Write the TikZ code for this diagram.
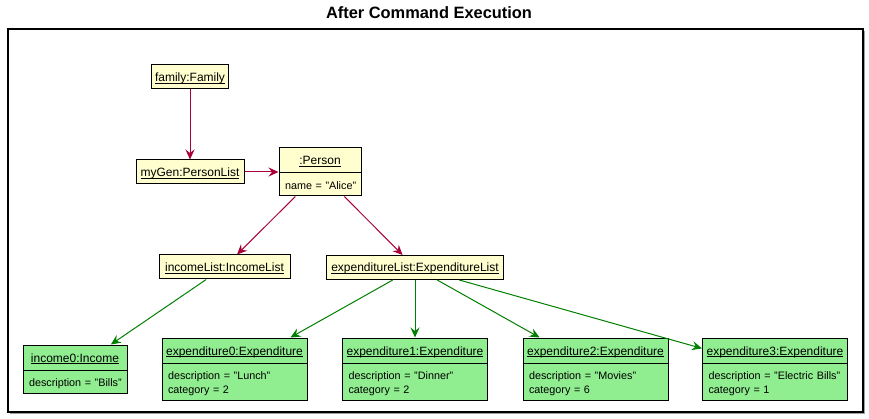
\documentclass[tikz,border=0pt]{standalone}
\usepackage{fontspec}
\setmainfont{Liberation Sans}
\usetikzlibrary{arrows.meta,shapes.multipart,positioning}

\definecolor{objyellow}{HTML}{FEFECE}
\definecolor{objgreen}{HTML}{90EE90}
\definecolor{linkred}{HTML}{A80036}
\definecolor{linkgreen}{HTML}{008000}
\definecolor{frameshadow}{HTML}{A0A0A0}

\newsavebox{\labelbox}
\newcommand{\objlabel}[1]{{\fontsize{12}{14}\selectfont\sbox{\labelbox}{#1}\rule[-4.5pt]{0pt}{18pt}\rlap{\rule[-2pt]{\wd\labelbox}{0.8pt}}\usebox{\labelbox}}}
\newcommand{\objhead}[1]{\hbox to\hsize{\hss\objlabel{#1}\hss}}
\newcommand{\oneattr}[1]{\mbox{\rule[-3pt]{0pt}{16pt}#1}}
\newcommand{\twoattrs}[2]{\mbox{\rule{0pt}{13pt}#1}\\\mbox{#2\rule[-3pt]{0pt}{3pt}}}

\tikzset{
  obj/.style={draw, line width=1pt, fill=objyellow, inner xsep=0pt, inner ysep=3pt, font=\fontsize{10.8}{14}\selectfont},
  objsplit/.style={obj, rectangle split, rectangle split parts=2, inner xsep=6pt, align=left},
  redlink/.style={->, linkred, line width=1pt},
  greenlink/.style={->, linkgreen, line width=1pt}
}

\begin{document}
\begin{tikzpicture}[x=1pt, y=-1pt, >={Stealth[length=10pt,width=9pt,inset=3.5pt]}]
  \useasboundingbox (0,0) rectangle (869,419);
  \fill [frameshadow] (10,31) rectangle (865,414);
  \draw [line width=1.5pt, fill=white] (8,29) rectangle (863,412);
  \node [font=\bfseries\fontsize{16.4}{20}\selectfont] (title) at (429,12.5) {After Command Execution};

  \node [obj, minimum width=77pt] (family) at (190,77) {\objlabel{family:Family}};
  \node [obj, minimum width=108pt] (mygen) at (190,172) {\objlabel{myGen:PersonList}};
  \node [objsplit, text width=70pt] (person) at (320,172) {\objhead{:Person}\nodepart{two}\oneattr{name = "Alice"}};

  \node [obj, minimum width=131pt] (incomelist) at (224.5,267) {\objlabel{incomeList:IncomeList}};
  \node [obj, minimum width=177pt] (explist) at (415,267.5) {\objlabel{expenditureList:ExpenditureList}};

  \node [objsplit, fill=objgreen, text width=92pt] (income0) at (75,369) {\objhead{income0:Income}\nodepart{two}\oneattr{description = "Bills"}};
  \node [objsplit, fill=objgreen, text width=133pt] (exp0) at (234.5,369) {\objhead{expenditure0:Expenditure}\nodepart{two}\twoattrs{description = "Lunch"}{category = 2}};
  \node [objsplit, fill=objgreen, text width=133pt] (exp1) at (415,369) {\objhead{expenditure1:Expenditure}\nodepart{two}\twoattrs{description = "Dinner"}{category = 2}};
  \node [objsplit, fill=objgreen, text width=133pt] (exp2) at (595.5,369) {\objhead{expenditure2:Expenditure}\nodepart{two}\twoattrs{description = "Movies"}{category = 6}};
  \node [objsplit, fill=objgreen, text width=133pt] (exp3) at (775,369) {\objhead{expenditure3:Expenditure}\nodepart{two}\twoattrs{description = "Electric Bills"}{category = 1}};

  \draw [redlink] (family) -- (mygen);
  \draw [redlink] (mygen) -- (person);
  \draw [redlink] (person) -- (incomelist);
  \draw [redlink] (person) -- (explist);

  \draw [greenlink] (incomelist) -- (income0);
  \draw [greenlink] (explist) -- (exp0);
  \draw [greenlink] (explist) -- (exp1);
  \draw [greenlink] (explist) -- (exp2);
  \draw [greenlink] (explist) -- (exp3);
\end{tikzpicture}
\end{document}
